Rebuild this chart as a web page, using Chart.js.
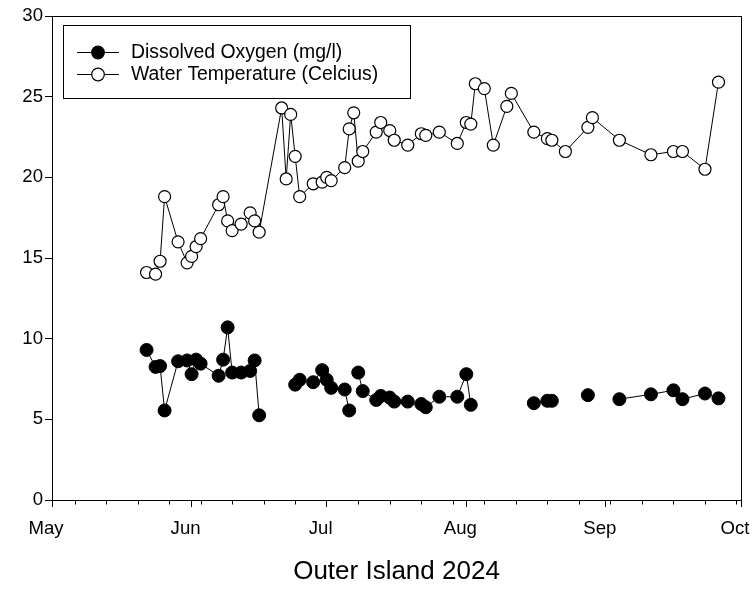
<!DOCTYPE html>
<html>
<head>
<meta charset="utf-8">
<script src="https://cdn.jsdelivr.net/npm/chart.js@4.4.1/dist/chart.umd.min.js"></script>
<style>
  html, body { margin: 0; padding: 0; background: #fff; }
  #wrap { width: 754px; height: 589px; }
</style>
</head>
<body>
<div id="wrap"><canvas id="chart"></canvas></div>
<script>
// sample dates (2024) shared by both series
const SAMPLE_DATES = [
  '2024-05-22','2024-05-24','2024-05-25','2024-05-26','2024-05-29','2024-05-31',
  '2024-06-01','2024-06-02','2024-06-03','2024-06-07','2024-06-08','2024-06-09',
  '2024-06-10','2024-06-12','2024-06-14','2024-06-15','2024-06-16','2024-06-21',
  '2024-06-22','2024-06-23','2024-06-24','2024-06-25','2024-06-28','2024-06-30',
  '2024-07-01','2024-07-02','2024-07-05','2024-07-06','2024-07-07','2024-07-08',
  '2024-07-09','2024-07-12','2024-07-13','2024-07-15','2024-07-16','2024-07-19',
  '2024-07-22','2024-07-23','2024-07-26','2024-07-30','2024-08-01','2024-08-02',
  '2024-08-03','2024-08-05','2024-08-07','2024-08-10','2024-08-11','2024-08-16',
  '2024-08-19','2024-08-20','2024-08-23','2024-08-28','2024-08-29','2024-09-04',
  '2024-09-11','2024-09-16','2024-09-18','2024-09-23','2024-09-26',
];

// Water temperature (Celcius)
const WATER_TEMP = [
  14.1, 14.0, 14.8, 18.8, 16.0, 14.7,
  15.1, 15.7, 16.2, 18.3, 18.8, 17.3,
  16.7, 17.1, 17.8, 17.3, 16.6, 24.3,
  19.9, 23.9, 21.3, 18.8, 19.6, 19.7,
  20.0, 19.8, 20.6, 23.0, 24.0, 21.0,
  21.6, 22.8, 23.4, 22.9, 22.3, 22.0,
  22.7, 22.6, 22.8, 22.1, 23.4, 23.3,
  25.8, 25.5, 22.0, 24.4, 25.2, 22.8,
  22.4, 22.3, 21.6, 23.1, 23.7, 22.3,
  21.4, 21.6, 21.6, 20.5, 25.9,
];

// Dissolved oxygen (mg/l), null = not measured (breaks the line)
const DISSOLVED_O2 = [
  9.3, 8.25, 8.3, 5.55, 8.6, 8.65,
  7.8, 8.7, 8.45, 7.7, 8.7, 10.7,
  7.9, 7.9, 8.0, 8.65, 5.25, null,
  null, null, 7.15, 7.45, 7.3, 8.05,
  7.45, 6.95, 6.85, 5.55, null, 7.9,
  6.75, 6.2, 6.45, 6.35, 6.1, 6.1,
  5.95, 5.75, 6.4, 6.4, 7.8, 5.9,
  null, null, null, null, null, 6.0,
  6.15, 6.15, null, 6.5, null, 6.25,
  6.55, 6.8, 6.25, 6.6, 6.3,
];

const MONTH_STARTS = ['2024-05-01','2024-06-01','2024-07-01','2024-08-01','2024-09-01','2024-10-01'];
const MONTH_LABELS = ['May','Jun','Jul','Aug','Sep','Oct'];
// weekly minor ticks (Mondays)
const WEEK_TICKS = [
  '2024-05-06','2024-05-13','2024-05-20','2024-05-27','2024-06-03','2024-06-10',
  '2024-06-17','2024-06-24','2024-07-08','2024-07-15','2024-07-22','2024-07-29',
  '2024-08-05','2024-08-12','2024-08-19','2024-08-26','2024-09-02','2024-09-09',
  '2024-09-16','2024-09-23','2024-09-30',
];
const Y_TICKS = [0, 5, 10, 15, 20, 25, 30];

const TITLE = 'Outer Island 2024';
const SERIES_NAMES = ['Dissolved Oxygen (mg/l)', 'Water Temperature (Celcius)'];

const FONT = '"Liberation Sans", Arial, Helvetica, sans-serif';
const DAY_MS = 86400000;
const ORIGIN = Date.parse(MONTH_STARTS[0]);

// days since May 1
function dayOf(d) {
  return Math.round((Date.parse(d) - ORIGIN) / DAY_MS);
}

function toPoints(vals) {
  return SAMPLE_DATES.map((d, i) => ({ x: dayOf(d), y: vals[i] }));
}

// frame, weekly ticks and boxed legend
const decorPlugin = {
  id: 'decor',
  afterDraw(chart) {
    const { ctx, chartArea: a, scales } = chart;
    ctx.save();
    ctx.strokeStyle = '#000';
    ctx.lineWidth = 1;

    // frame
    ctx.strokeRect(Math.round(a.left) + 0.5, Math.round(a.top) + 0.5,
                   Math.round(a.right - a.left), Math.round(a.bottom - a.top));

    // minor weekly ticks
    const yb = Math.round(a.bottom) + 0.5;
    ctx.beginPath();
    for (const d of WEEK_TICKS) {
      const px = Math.round(scales.x.getPixelForValue(dayOf(d))) + 0.5;
      ctx.moveTo(px, yb);
      ctx.lineTo(px, yb + 4);
    }
    ctx.stroke();

    // legend
    const box = { x: 63, y: 25, w: 347, h: 73 };
    ctx.strokeRect(box.x + 0.5, box.y + 0.5, box.w, box.h);
    const rows = [box.y + 27, box.y + 49];
    chart.data.datasets.forEach((ds, i) => {
      const yy = rows[i] + 0.5;
      ctx.beginPath();
      ctx.moveTo(77, yy);
      ctx.lineTo(119, yy);
      ctx.stroke();
      ctx.beginPath();
      ctx.arc(98, yy, 6.3, 0, Math.PI * 2);
      ctx.fillStyle = ds.pointBackgroundColor;
      ctx.fill();
      ctx.lineWidth = 1.2;
      ctx.stroke();
      ctx.lineWidth = 1;
      ctx.fillStyle = '#000';
      ctx.font = `19.4px ${FONT}`;
      ctx.textBaseline = 'middle';
      ctx.textAlign = 'left';
      ctx.fillText(ds.label, 131, yy);
    });
    ctx.restore();
  },
};

new Chart(document.getElementById('chart'), {
  type: 'line',
  data: {
    datasets: [
      {
        label: SERIES_NAMES[0],
        data: toPoints(DISSOLVED_O2),
        borderColor: '#000',
        borderWidth: 1,
        pointBackgroundColor: '#000',
        pointBorderColor: '#000',
        pointRadius: 6.5,
        pointBorderWidth: 1,
        spanGaps: false,
      },
      {
        label: SERIES_NAMES[1],
        data: toPoints(WATER_TEMP),
        borderColor: '#000',
        borderWidth: 1,
        pointBackgroundColor: '#fff',
        pointBorderColor: '#000',
        pointRadius: 6,
        pointBorderWidth: 1.2,
      },
    ],
  },
  options: {
    responsive: true,
    maintainAspectRatio: false,
    animation: false,
    devicePixelRatio: 1,
    layout: { padding: { top: 16, right: 13, bottom: 0, left: 0 } },
    plugins: {
      legend: { display: false },
      tooltip: { enabled: false },
    },
    scales: {
      x: {
        type: 'linear',
        min: dayOf(MONTH_STARTS[0]),
        max: dayOf(MONTH_STARTS[MONTH_STARTS.length - 1]),
        afterBuildTicks: s => { s.ticks = MONTH_STARTS.map(d => ({ value: dayOf(d) })); },
        afterFit: s => { s.height = 89; s.paddingRight = 0; s.paddingLeft = 0; },
        ticks: {
          autoSkip: false,
          maxRotation: 0,
          color: '#000',
          font: { family: FONT, size: 18.6 },
          padding: 11,
          labelOffset: -6,
          callback: (v, i) => MONTH_LABELS[i],
        },
        grid: { drawOnChartArea: false, tickLength: 7, tickColor: '#000', tickWidth: 1 },
        border: { color: '#000', width: 1 },
        title: {
          display: true,
          text: TITLE,
          color: '#000',
          font: { family: FONT, size: 26 },
          padding: { top: 0, bottom: 2 },
        },
      },
      y: {
        min: 0,
        max: 30,
        afterBuildTicks: s => { s.ticks = Y_TICKS.map(v => ({ value: v })); },
        afterFit: s => { s.width = 52; },
        ticks: {
          color: '#000',
          font: { family: FONT, size: 18.6 },
          padding: 2,
        },
        grid: { drawOnChartArea: false, tickLength: 7, tickColor: '#000', tickWidth: 1 },
        border: { color: '#000', width: 1 },
      },
    },
  },
  plugins: [decorPlugin],
});
</script>
</body>
</html>
